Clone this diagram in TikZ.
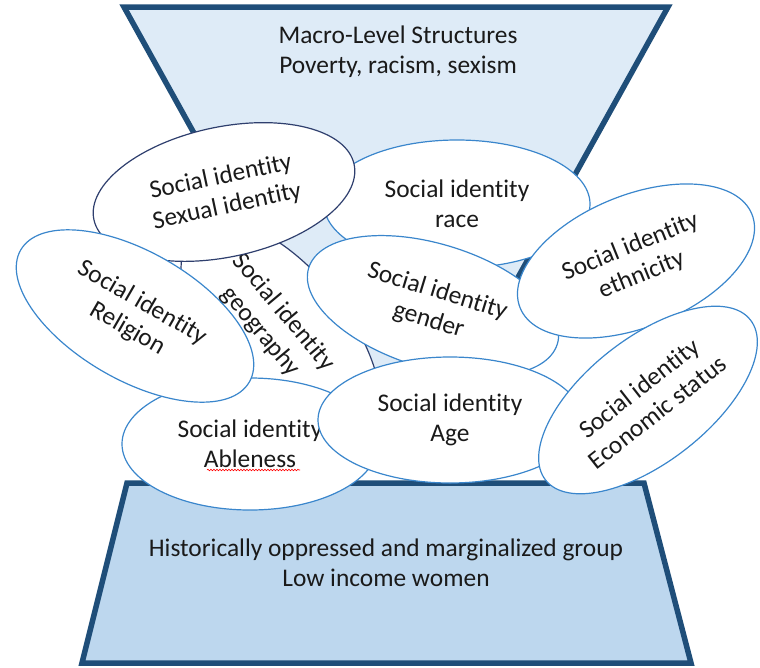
\documentclass[tikz,border=0pt]{standalone}
\usepackage{fontspec}
\setmainfont{Carlito}[Ligatures=NoCommon]
\usetikzlibrary{shapes.geometric,calc,decorations.pathmorphing}
\definecolor{frame}{HTML}{1F4E79}
\definecolor{skyfill}{HTML}{DEEBF7}
\definecolor{basefill}{HTML}{BDD7EE}
\definecolor{rim}{HTML}{3A86CC}
\definecolor{rimdark}{HTML}{2F3F6E}
\definecolor{ink}{HTML}{1A1A1A}
\tikzset{
  funnel/.style={draw=frame,line width=5.5pt,line join=miter},
  bubble/.style={ellipse,draw=rim,fill=white,line width=1.2pt,inner sep=0pt,align=center,text=ink},
  bubbled/.style={bubble,draw=rimdark},
  caption/.style={align=center,text=ink},
}

\begin{document}
\begin{tikzpicture}[x=1pt,y=-1pt,every node/.append style={font=\fontsize{25.4}{30}\selectfont}]
\useasboundingbox (0,0) rectangle (760,667);
% upper funnel and lower base
\filldraw[funnel,fill=skyfill] (124,7) -- (668,7) -- (450,400) -- (342,400) -- cycle;
\node[caption] (macro) at (398,52) {Macro-Level Structures\\Poverty, racism, sexism};
\filldraw[funnel,fill=basefill] (127,483) -- (644,483) -- (691,663) -- (82,663) -- cycle;
\node[caption] (group) at (386,563) {Historically oppressed and marginalized group\\Low income women};
% identity bubbles, back to front
\node[bubbled,minimum width=274pt,minimum height=136pt,rotate=-52] (geo) at (281,337) {};
\node[caption,rotate=-50] (geotext) at (272,322) {Social identity\\geography};
\node[bubble,minimum width=266pt,minimum height=128pt] (race) at (457,204) {Social identity\\race};
\node[bubbled,minimum width=266pt,minimum height=130pt,rotate=12] (sexual) at (224,192) {Social identity\\Sexual identity};
\node[bubble,minimum width=256pt,minimum height=132pt] (able) at (250,444) {Social identity\\Ableness};
\draw[red,line width=0.6pt,decorate,decoration={snake,amplitude=0.8pt,segment length=3pt}]
  ($(able.center)+(-43,26)$) -- ($(able.center)+(50,26)$);
\node[bubble,minimum width=264pt,minimum height=128pt,rotate=-30] (religion) at (135,316) {Social identity\\Religion};
\node[bubble,minimum width=260pt,minimum height=124pt,rotate=-17] (gender) at (433,306) {Social identity\\gender};
\node[bubble,minimum width=264pt,minimum height=126pt] (age) at (450,420) {Social identity\\Age};
\node[bubble,minimum width=250pt,minimum height=132pt,rotate=22] (ethnicity) at (636,261) {Social identity\\ethnicity};
\node[bubble,minimum width=260pt,minimum height=124pt,rotate=38] (econ) at (648,400) {Social identity\\Economic status};
\end{tikzpicture}
\end{document}
